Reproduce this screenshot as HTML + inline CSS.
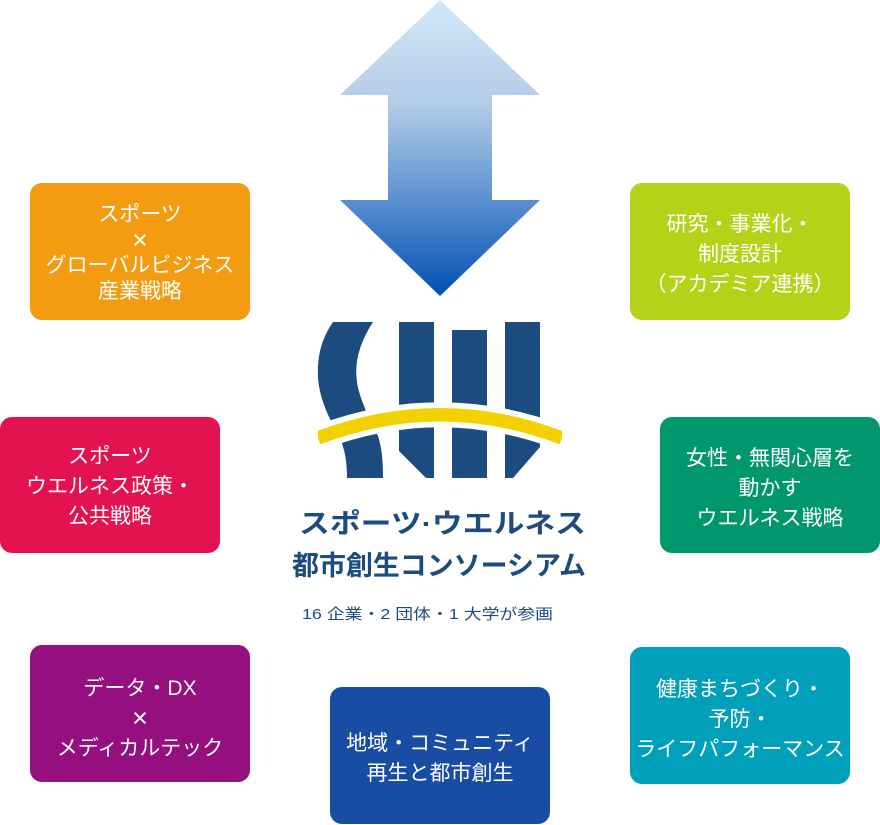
<!DOCTYPE html>
<html><head><meta charset="utf-8"><style>
html,body{margin:0;padding:0;background:#fff;}
svg{display:block;}
.t{font-family:"Liberation Sans","Noto Sans CJK JP",sans-serif;font-size:21px;fill:#fff;text-anchor:middle;}
.x{font-family:"Liberation Sans",sans-serif;font-size:27px;fill:#fff;text-anchor:middle;}
</style></head><body>
<svg width="880" height="825" viewBox="0 0 880 825" xmlns="http://www.w3.org/2000/svg">
<defs>
<linearGradient id="ag" x1="0" y1="0" x2="0" y2="1">
<stop offset="0" stop-color="#d2e8f8"/>
<stop offset="0.35" stop-color="#b3cce8"/>
<stop offset="0.6" stop-color="#6f9fd6"/>
<stop offset="1" stop-color="#0050b4"/>
</linearGradient>
</defs>
<rect width="880" height="825" fill="#fff"/>
<!-- arrow -->
<polygon points="440,0 540,95 492,95 492,200 540,200 440,296 340,200 388,200 388,95 340,95" fill="url(#ag)"/>

<!-- logo -->
<g fill="#1c4b7f">
<path d="M333,322 L373,322 C360,342 354,362 357,382 C359,398 372,425 378,436 C382,448 383,462 383,478 L347,478 C347,462 345,450 340,438 C335,428 320,405 318,378 C317,355 322,338 333,322 Z"/>
<path d="M399,322 L434,322 L434,478 L426,478 L399,451 Z"/>
<rect x="452" y="330" width="35" height="148"/>
<path d="M505,322 L540,322 L540,447 L513,478 L505,478 Z"/>
</g>
<path d="M318,438 Q440,391.5 562,438" stroke="#fff" stroke-width="25" fill="none"/>
<path d="M318,438 Q440,391.5 562,438" stroke="#f3d100" stroke-width="13.5" fill="none"/>
<rect x="300" y="420" width="18" height="40" fill="#fff"/>
<rect x="562" y="420" width="18" height="40" fill="#fff"/>

<!-- title -->
<text x="299" y="533" textLength="287" lengthAdjust="spacingAndGlyphs" style="font-family:'Liberation Sans','Noto Sans CJK JP',sans-serif;font-weight:bold;font-size:27px;fill:#1c4b7f;">スポーツ·ウエルネス</text>
<text x="292" y="575" textLength="294" lengthAdjust="spacingAndGlyphs" style="font-family:'Liberation Sans','Noto Sans CJK JP',sans-serif;font-weight:bold;font-size:27px;fill:#1c4b7f;">都市創生コンソーシアム</text>
<text x="302" y="619" textLength="251" lengthAdjust="spacingAndGlyphs" style="font-family:'Liberation Sans','Noto Sans CJK JP',sans-serif;font-size:15px;fill:#1c4b7f;">16 企業・2 団体・1 大学が参画</text>

<!-- boxes -->
<rect x="30" y="183" width="220" height="137" rx="12" fill="#f39c12"/>
<text class="t" x="140" y="221">スポーツ</text>
<text class="x" x="140" y="249">×</text>
<text class="t" x="140" y="272">グローバルビジネス</text>
<text class="t" x="140" y="298">産業戦略</text>

<rect x="630" y="183" width="220" height="137" rx="12" fill="#b5d218"/>
<text class="t" x="740" y="231">研究・事業化・</text>
<text class="t" x="740" y="261">制度設計</text>
<text class="t" x="740" y="291">（アカデミア連携）</text>

<rect x="0" y="417" width="220" height="136" rx="12" fill="#e31250"/>
<text class="t" x="110" y="463">スポーツ</text>
<text class="t" x="110" y="493">ウエルネス政策・</text>
<text class="t" x="110" y="523">公共戦略</text>

<rect x="660" y="417" width="220" height="136" rx="12" fill="#00976d"/>
<text class="t" x="770" y="465">女性・無関心層を</text>
<text class="t" x="770" y="495">動かす</text>
<text class="t" x="770" y="525">ウエルネス戦略</text>

<rect x="30" y="645" width="220" height="137" rx="12" fill="#960f7e"/>
<text class="t" x="140" y="695">データ・DX</text>
<text class="x" x="140" y="727">×</text>
<text class="t" x="140" y="755">メディカルテック</text>

<rect x="330" y="687" width="220" height="137" rx="12" fill="#184da3"/>
<text class="t" x="440" y="750">地域・コミュニティ</text>
<text class="t" x="440" y="780">再生と都市創生</text>

<rect x="630" y="647" width="220" height="137" rx="12" fill="#00a0ba"/>
<text class="t" x="740" y="696">健康まちづくり・</text>
<text class="t" x="740" y="726">予防・</text>
<text class="t" x="740" y="756">ライフパフォーマンス</text>
</svg>
</body></html>
